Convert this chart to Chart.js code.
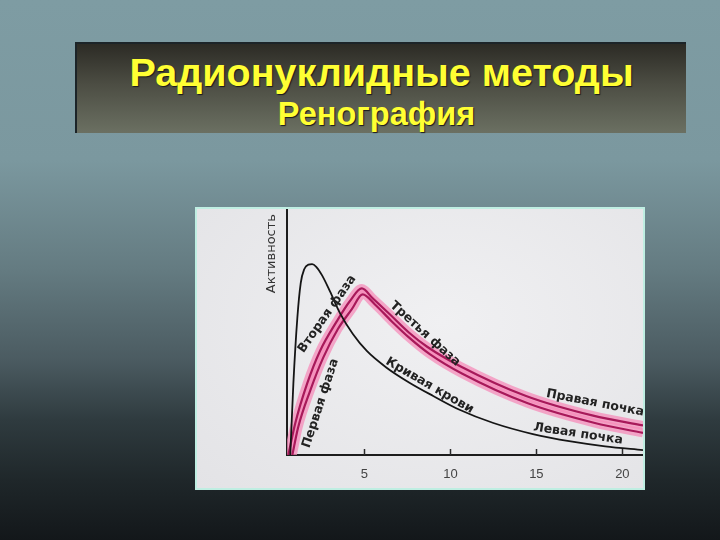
<!DOCTYPE html>
<html>
<head>
<meta charset="utf-8">
<script src="https://cdn.jsdelivr.net/npm/chart.js@4.4.0/dist/chart.umd.min.js"></script>
<style>
  body {
    margin: 0;
    width: 720px;
    height: 540px;
    overflow: hidden;
    background: linear-gradient(to bottom, #7e9ca3 0px, #7b989f 160px, #647b81 270px, #4b5b61 360px, #2f3b3f 420px, #1f272a 480px, #13171a 540px);
    font-family: "Liberation Sans", Arial, sans-serif;
    position: relative;
  }
  #titleBox {
    position: absolute;
    left: 75px;
    top: 42px;
    width: 611px;
    height: 91px;
    background: linear-gradient(to bottom, #2c2b25, #4c4d43 45%, #6b7062);
    border-top: 2px solid #1c2428;
    border-left: 2px solid #1c2428;
    box-sizing: border-box;
    color: #ffff33;
    font-weight: bold;
    text-shadow: 1px 1px 1px #1a1a1a;
  }
  #titleBox div {
    position: absolute;
    left: 0;
    width: 100%;
    text-align: center;
    white-space: nowrap;
  }
  #titleBox .t1 { font-size: 39.5px; top: 6px; line-height: 44px; left: 0px; }
  #titleBox .t2 { font-size: 32.5px; top: 51px; line-height: 38px; left: -5px; }
  #chartBox {
    position: absolute;
    left: 195px;
    top: 207px;
    width: 450px;
    height: 283px;
    background: radial-gradient(ellipse at 55% 40%, #f0f0f2, #e3e3e6);
    border: 2px solid #bfeee2;
    box-sizing: border-box;
  }
  #chartBox canvas { display: block; }
</style>
</head>
<body>
<div id="titleBox">
  <div class="t1">Радионуклидные методы</div>
  <div class="t2">Ренография</div>
</div>
<div id="chartBox">
  <canvas id="renogram" width="446" height="279"></canvas>
</div>
<script>
// time, minutes (x) and activity (y, relative units)
const bloodX = [0.69, 0.87, 1.1, 1.3, 1.5, 1.75, 1.96, 2.2, 2.54, 3.0, 3.58, 4.33, 5.14, 6.29, 7.62, 9.0, 10.5, 12.5, 14.8, 17, 19, 21.2];
const bloodY = [0, 29, 55.6, 70, 75.5, 77.4, 77.6, 76.5, 73, 66.5, 57.7, 49.2, 42.3, 35.5, 29.4, 24, 18.5, 13, 8.5, 5.5, 3.5, 2];

const rightX = [0.58, 0.98, 1.67, 2.42, 3.4, 4.15, 4.85, 5.48, 6.46, 7.62, 8.65, 10.6, 14.4, 18.3, 21.2];
const rightY = [0, 12.9, 29, 42.3, 54.4, 62.5, 67.7, 63.7, 57.3, 49.6, 44.0, 36, 24, 16, 12];

const leftX = [0.81, 1.15, 1.85, 2.6, 3.46, 4.27, 4.9, 5.6, 6.58, 7.62, 8.8, 10.7, 14.5, 18.4, 21.2];
const leftY = [0, 11.3, 26.2, 39.5, 51.2, 59.3, 65.3, 61.3, 54.4, 47.6, 41.0, 33, 21, 13, 9];

const xTicks = [5, 10, 15, 20];

// text notes: [text, x, y, angle in degrees] (x, y = start of text centre line)
const notes = [
  ["Первая фаза", 1.62, 3.0, -72],
  ["Вторая фаза", 1.3, 42, -55],
  ["Третья фаза", 6.58, 61.5, 42],
  ["Кривая крови", 6.29, 38.3, 30],
  ["Правая почка", 15.58, 25, 11],
  ["Левая почка", 14.83, 11.3, 8.5],
];

function toPoints(xs, ys) {
  return xs.map((x, i) => ({ x: x, y: ys[i] }));
}

const notesPlugin = {
  id: "notes",
  afterDatasetsDraw(chart) {
    const ctx = chart.ctx;
    const xs = chart.scales.x;
    const ys = chart.scales.y;
    const area = chart.chartArea;
    ctx.save();
    // tick marks pointing up into the plot
    ctx.strokeStyle = "#2a2a2a";
    ctx.lineWidth = 1.5;
    xTicks.forEach((v) => {
      const px = Math.round(xs.getPixelForValue(v)) + 0.5;
      ctx.beginPath();
      ctx.moveTo(px, area.bottom);
      ctx.lineTo(px, area.bottom - 6);
      ctx.stroke();
    });
    ctx.fillStyle = "#222";
    ctx.font = "bold 12.5px 'DejaVu Sans', sans-serif";
    ctx.textBaseline = "middle";
    ctx.textAlign = "left";
    notes.forEach(([text, x, y, angle]) => {
      ctx.save();
      ctx.translate(xs.getPixelForValue(x), ys.getPixelForValue(y));
      ctx.rotate((angle * Math.PI) / 180);
      ctx.fillText(text, 0, 0);
      ctx.restore();
    });
    // axis caption
    ctx.translate(area.left - 15, area.top + 5);
    ctx.rotate(-Math.PI / 2);
    ctx.textAlign = "right";
    ctx.fillStyle = "#333";
    ctx.font = "13px 'DejaVu Sans', sans-serif";
    ctx.fillText("Активность", 0, 0);
    ctx.restore();
  },
};

const glow = "rgba(245, 140, 185, 0.75)";
const kidneyLine = "#a8195a";

new Chart(document.getElementById("renogram"), {
  type: "line",
  data: {
    datasets: [
      { data: toPoints(rightX, rightY), borderColor: glow, borderWidth: 9, order: 5 },
      { data: toPoints(leftX, leftY), borderColor: glow, borderWidth: 9, order: 4 },
      { data: toPoints(rightX, rightY), borderColor: kidneyLine, borderWidth: 2.2, order: 3 },
      { data: toPoints(leftX, leftY), borderColor: kidneyLine, borderWidth: 2.2, order: 2 },
      { data: toPoints(bloodX, bloodY), borderColor: "#151515", borderWidth: 1.8, order: 1 },
    ],
  },
  options: {
    responsive: false,
    animation: false,
    events: [],
    elements: {
      line: { tension: 0.4, cubicInterpolationMode: "monotone", fill: false },
      point: { radius: 0 },
    },
    layout: { padding: { left: 90, right: 0, top: 0, bottom: 0 } },
    plugins: {
      legend: { display: false },
      tooltip: { enabled: false },
    },
    scales: {
      x: {
        type: "linear",
        min: 0.5,
        max: 21.2,
        afterBuildTicks(scale) {
          scale.ticks = xTicks.map((v) => ({ value: v }));
        },
        afterFit(scale) {
          scale.height = 33;
        },
        border: { color: "#1d1d1d", width: 2 },
        grid: { display: false, drawTicks: false },
        ticks: { color: "#444", font: { size: 13, family: "'Liberation Sans', Arial" }, padding: 12 },
      },
      y: {
        min: 0,
        max: 100,
        afterFit(scale) {
          scale.width = 0;
        },
        border: { color: "#1d1d1d", width: 2 },
        grid: { display: false },
        ticks: { display: false },
      },
    },
  },
  plugins: [notesPlugin],
});
</script>
</body>
</html>
